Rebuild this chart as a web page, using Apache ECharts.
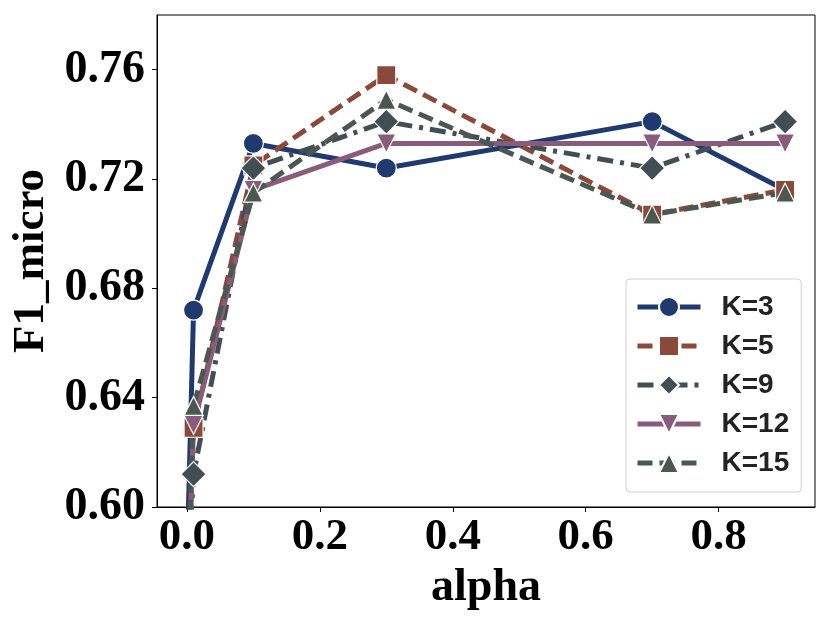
<!DOCTYPE html>
<html>
<head>
<meta charset="utf-8">
<script src="https://cdn.jsdelivr.net/npm/echarts@6/dist/echarts.min.js"></script>
<style>
  html, body { margin: 0; padding: 0; background: #fff; }
  #main { width: 830px; height: 623px; }
</style>
</head>
<body>
<div id="main"></div>
<script>
    var myChart = echarts.init(document.getElementById('main'));

    // alpha values (x)
    var alpha = [0, 0.01, 0.1, 0.3, 0.7, 0.9];
    var xTicks = [0, 0.2, 0.4, 0.6, 0.8];
    var yTicks = [0.60, 0.64, 0.68, 0.72, 0.76];

    // F1_micro per K (first point lies below the visible range)
    var k3 = [0.578, 0.672, 0.733, 0.724, 0.741, 0.716];
    var k5 = [0.560, 0.629, 0.725, 0.758, 0.707, 0.716];
    var k9 = [0.570, 0.612, 0.724, 0.741, 0.724, 0.741];
    var k12 = [0.557, 0.630, 0.716, 0.733, 0.733, 0.733];
    var k15 = [0.565, 0.637, 0.715, 0.749, 0.707, 0.715];

    var names = ['K=3', 'K=5', 'K=9', 'K=12', 'K=15'];
    var colors = ['#1f3a6e', '#8b4a39', '#414f55', '#8a5c7c', '#4b5750'];

    const pairs = (ys) => alpha.map((x, i) => [x, ys[i]]);

    const mkSeries = (name, ys, color, symbol, size, dash, rotate) => ({
        name: name,
        type: 'line',
        data: pairs(ys),
        symbol: symbol,
        symbolSize: size,
        symbolRotate: rotate || 0,
        showAllSymbol: true,
        clip: true,
        lineStyle: {color: color, width: 5, type: dash},
        itemStyle: {color: color, borderColor: '#fff', borderWidth: 1.2, opacity: 1},
        emphasis: {disabled: true}
    });

    var serif = 'Liberation Serif';

    option = {
        animation: false,
        color: colors,
        grid: {
            left: 157, right: 15, top: 15, bottom: 116,
            show: true, borderColor: '#000', borderWidth: 1
        },
        legend: {
            orient: 'vertical',
            left: 626, top: 279,
            padding: [14, 12, 15, 9],
            itemWidth: 63, itemHeight: 25, itemGap: 11,
            borderColor: '#d0d0d0', borderWidth: 1, borderRadius: 4,
            backgroundColor: 'rgba(255,255,255,0.85)',
            lineStyle: {width: 5},
            textStyle: {
                fontFamily: 'Liberation Sans', fontWeight: 'bold',
                fontSize: 28, color: '#222', padding: [0, 0, 0, 16]
            },
            data: names
        },
        xAxis: {
            type: 'value',
            min: -0.045, max: 0.945,
            name: 'alpha',
            nameLocation: 'middle',
            nameGap: 41,
            nameTextStyle: {fontFamily: serif, fontWeight: 'bold', fontSize: 46, color: '#000'},
            axisLine: {show: true, onZero: false, lineStyle: {color: '#000', width: 1}},
            axisTick: {show: true, length: 5, customValues: xTicks, lineStyle: {color: '#000'}},
            axisLabel: {
                customValues: xTicks, margin: 8,
                fontFamily: serif, fontWeight: 'bold', fontSize: 45, color: '#000',
                formatter: (v) => v.toFixed(1)
            },
            splitLine: {show: false}
        },
        yAxis: {
            type: 'value',
            min: 0.60, max: 0.78,
            name: 'F1_micro',
            nameLocation: 'middle',
            nameGap: 93,
            nameTextStyle: {fontFamily: serif, fontWeight: 'bold', fontSize: 45, color: '#000'},
            axisLine: {show: true, onZero: false, lineStyle: {color: '#000', width: 1}},
            axisTick: {show: true, length: 5, customValues: yTicks, lineStyle: {color: '#000'}},
            axisLabel: {
                customValues: yTicks, margin: 12,
                fontFamily: serif, fontWeight: 'bold', fontSize: 46, color: '#000',
                formatter: (v) => v.toFixed(2)
            },
            splitLine: {show: false}
        },
        series: [
            mkSeries(names[0], k3, colors[0], 'circle', 20, 'solid'),
            mkSeries(names[1], k5, colors[1], 'rect', 19, [15, 7]),
            mkSeries(names[2], k9, colors[2], 'diamond', 25, [16, 7, 4, 7]),
            mkSeries(names[3], k12, colors[3], 'triangle', 19, 'solid', 180),
            mkSeries(names[4], k15, colors[4], 'triangle', 19, [15, 7])
        ]
    };

    myChart.setOption(option);
</script>
</body>
</html>
